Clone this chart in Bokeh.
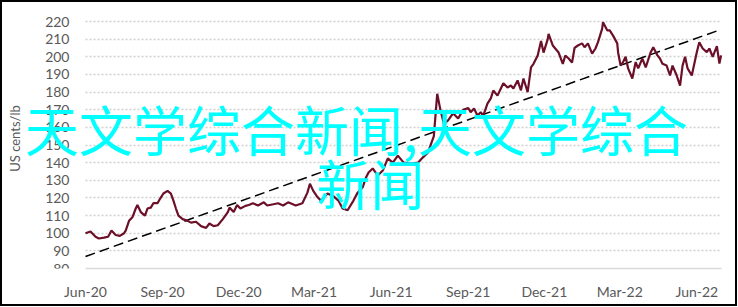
import pandas as pd
from bokeh.plotting import figure
from bokeh.models import Range1d, MonthsTicker, DatetimeTickFormatter, Label, FixedTicker
from bokeh.embed import file_html
from bokeh.resources import INLINE

# ---- data ----
dates = [
    "2020-06-01", "2020-06-07", "2020-06-13", "2020-06-17", "2020-06-23", "2020-06-28",
    "2020-07-02", "2020-07-07", "2020-07-12", "2020-07-17", "2020-07-19", "2020-07-23",
    "2020-07-27", "2020-07-31", "2020-08-02", "2020-08-06", "2020-08-11", "2020-08-14",
    "2020-08-18", "2020-08-21", "2020-08-26", "2020-08-29", "2020-09-02", "2020-09-07",
    "2020-09-11", "2020-09-14", "2020-09-17", "2020-09-20", "2020-09-25", "2020-10-01",
    "2020-10-05", "2020-10-11", "2020-10-17", "2020-10-23", "2020-10-27", "2020-11-01",
    "2020-11-06", "2020-11-12", "2020-11-18", "2020-11-20", "2020-11-25", "2020-11-29",
    "2020-12-03", "2020-12-09", "2020-12-13", "2020-12-18", "2020-12-24", "2020-12-31",
    "2021-01-04", "2021-01-10", "2021-01-17", "2021-01-23", "2021-01-29", "2021-02-07",
    "2021-02-15", "2021-02-21", "2021-02-24", "2021-02-28", "2021-03-05", "2021-03-09",
    "2021-03-17", "2021-03-24", "2021-03-30", "2021-04-04", "2021-04-10", "2021-04-17",
    "2021-04-22", "2021-04-28", "2021-05-02", "2021-05-05", "2021-05-10", "2021-05-16",
    "2021-05-22", "2021-05-28", "2021-06-03", "2021-06-09", "2021-06-16", "2021-06-25",
    "2021-07-03", "2021-07-09", "2021-07-15", "2021-07-22", "2021-07-26", "2021-07-30",
    "2021-08-03", "2021-08-08", "2021-08-14", "2021-08-20", "2021-08-26", "2021-09-01",
    "2021-09-04", "2021-09-08", "2021-09-12", "2021-09-16", "2021-09-19", "2021-09-24",
    "2021-09-28", "2021-10-01", "2021-10-06", "2021-10-10", "2021-10-13", "2021-10-18",
    "2021-10-22", "2021-10-25", "2021-10-30", "2021-11-03", "2021-11-06", "2021-11-11",
    "2021-11-15", "2021-11-18", "2021-11-23", "2021-11-27", "2021-11-30", "2021-12-05",
    "2021-12-06", "2021-12-11", "2021-12-14", "2021-12-18", "2021-12-23", "2021-12-26",
    "2021-12-30", "2022-01-03", "2022-01-06", "2022-01-10", "2022-01-15", "2022-01-18",
    "2022-01-22", "2022-01-27", "2022-01-31", "2022-02-03", "2022-02-08", "2022-02-09",
    "2022-02-14", "2022-02-17", "2022-02-21", "2022-02-26", "2022-02-27", "2022-03-02",
    "2022-03-05", "2022-03-08", "2022-03-11", "2022-03-16", "2022-03-20", "2022-03-23",
    "2022-03-28", "2022-04-01", "2022-04-07", "2022-04-10", "2022-04-15", "2022-04-18",
    "2022-04-21", "2022-04-26", "2022-04-30", "2022-05-03", "2022-05-08", "2022-05-12",
    "2022-05-15", "2022-05-18", "2022-05-21", "2022-05-26", "2022-06-01", "2022-06-04",
    "2022-06-08", "2022-06-13", "2022-06-16", "2022-06-20", "2022-06-25", "2022-06-28",
    "2022-06-30",
]
prices = [
    100, 101, 98, 97, 97.5, 98,
    101.5, 99, 98.5, 100, 101.5, 107,
    109, 114, 116, 112, 110, 114,
    114.5, 117, 117, 119.5, 122.5, 124,
    122.5, 118.5, 114, 110, 108, 107,
    106, 106.5, 104, 103, 105.5, 104,
    104.5, 108, 112, 114.5, 112, 116,
    114, 115.5, 116, 117, 115.7, 117.5,
    115.7, 116.3, 117, 115.7, 117.5, 115.7,
    117, 123, 128, 124, 120.5, 118.5,
    122.5, 121, 118.5, 114, 113, 118.5,
    123, 126, 131.6, 134.4, 136.7, 132.7,
    135.5, 142.4, 140, 144, 140, 139.5,
    140, 143, 145.8, 155, 179, 169.5,
    162, 164, 168, 165, 170, 171,
    168.6, 170.7, 166.7, 168.6, 166.7, 173.5,
    176.4, 180.9, 178, 182, 185, 182.6,
    183.7, 182, 186.6, 181, 187.7, 180,
    194, 196, 200.7, 209, 202.4, 210,
    213, 206.4, 204.7, 202.4, 196, 200.7,
    199, 196.7, 205, 206.4, 207.6, 205.4,
    207.6, 201.8, 204.7, 208.3, 216, 219.6,
    215, 215, 212, 207.6, 202.6, 195,
    197, 200, 193.4, 187.7, 197, 193.4,
    199, 194, 202.6, 205.4, 200.8, 199,
    196, 195, 189.4, 195, 189.4, 183.7,
    195, 200, 193.4, 189.4, 202.6, 208.3,
    204.7, 202.6, 204.7, 200, 206, 196.2,
    200.8,
]
trend_dates = ["2020-06-01", "2022-06-30"]
trend_values = [86.8, 215.5]
y_ticks = [80, 90, 100, 110, 120, 130, 140, 150, 160, 170, 180, 190, 200, 210, 220]
y_label = "US cents/lb"
overlay_lines = ["天文学综合新闻,天文学综合", "新闻"]

x = pd.to_datetime(dates)
tx = pd.to_datetime(trend_dates)

LABEL_FONT = "Lato"
LABEL_COLOR = "#595959"

# ---- layout: the frame spans the full canvas width so the overlay text is not clipped;
# the axes are pinned to the data area with fixed_location / bounds.
W, H = 737, 306            # css box incl. 2px border
FRAME_L, FRAME_R = 2, 739  # page pixels of the frame edges
FRAME_T = 8                # page pixel of the frame top
DATA_L, DATA_R = 85, 721   # page pixels of the data window
Y_TOP_PX, Y_BOT_PX = 21, 268  # page pixels of 220 and 80
ms = lambda d: pd.Timestamp(d).value / 1e6
d0, d1 = ms("2020-06-01"), ms("2022-06-30 12:00")
ppm = (DATA_R - DATA_L) / (d1 - d0)
x_start = d0 - (DATA_L - FRAME_L) / ppm
x_end = d1 + (FRAME_R - DATA_R) / ppm
ppv = (Y_BOT_PX - Y_TOP_PX) / (y_ticks[-1] - y_ticks[0])
y_end = y_ticks[-1] + (Y_TOP_PX - FRAME_T) / ppv

p = figure(
    width=W, height=H,
    x_axis_type="datetime",
    x_range=Range1d(x_start, x_end),
    y_range=Range1d(y_ticks[0], y_end),
    output_backend="svg", toolbar_location=None,
    min_border_left=0, min_border_right=0,
    min_border_top=FRAME_T - 2, min_border_bottom=H + 2 - Y_BOT_PX,
    background_fill_color="white", border_fill_color="white",
    outline_line_color=None,
)
p.styles = {"border": "2px solid black"}

# grid
p.xgrid.grid_line_color = None
p.ygrid.ticker = FixedTicker(ticks=y_ticks)
p.ygrid.grid_line_color = "#d0d0d0"
p.ygrid.grid_line_width = 1.5
p.ygrid.grid_line_dash = "2 2"
p.ygrid.cross_bounds = (d0, d1)

# y axis (pinned at the left edge of the data window)
p.yaxis.fixed_location = d0
p.yaxis.ticker = FixedTicker(ticks=y_ticks)
p.yaxis.axis_line_color = None
p.yaxis.major_tick_line_color = None
p.yaxis.minor_tick_line_color = None
p.yaxis.major_tick_in = 0
p.yaxis.major_tick_out = 0
p.yaxis.major_label_standoff = 16
p.yaxis.major_label_text_font = LABEL_FONT
p.yaxis.major_label_text_font_size = "14px"
p.yaxis.major_label_text_color = LABEL_COLOR
p.yaxis.axis_label = y_label
p.yaxis.axis_label_text_font = LABEL_FONT
p.yaxis.axis_label_text_font_size = "13px"
p.yaxis.axis_label_text_font_style = "normal"
p.yaxis.axis_label_text_color = LABEL_COLOR
p.yaxis.axis_label_standoff = 19

# x axis (BokehJS months are 0-based: 2=Mar, 5=Jun, 8=Sep, 11=Dec)
p.xaxis.bounds = (d0, d1)
p.xaxis.ticker = MonthsTicker(months=[2, 5, 8, 11])
p.xaxis.formatter = DatetimeTickFormatter(months="%b-%y", days="%b-%y")
p.xaxis.axis_line_color = "#d9d9d9"
p.xaxis.axis_line_width = 1.5
p.xaxis.major_tick_line_color = None
p.xaxis.minor_tick_line_color = None
p.xaxis.major_tick_in = 0
p.xaxis.major_tick_out = 0
p.xaxis.major_label_standoff = 14
p.xaxis.major_label_text_font = LABEL_FONT
p.xaxis.major_label_text_font_size = "14px"
p.xaxis.major_label_text_color = LABEL_COLOR

# series
p.line(tx, trend_values, line_color="black", line_width=1.5, line_dash="10 5")
p.line(x, prices, line_color="#6b1028", line_width=2.2)

# overlay text (screen units are measured from the frame's bottom-left corner)
p.add_layout(Label(x=22.5, y=140, x_units="screen", y_units="screen", text=overlay_lines[0],
                   text_font="Noto Sans CJK SC", text_font_size="54px",
                   text_color="#00ffff", text_baseline="middle", text_align="left"))
p.add_layout(Label(x=368, y=86, x_units="screen", y_units="screen", text=overlay_lines[1],
                   text_font="Noto Sans CJK SC", text_font_size="54px",
                   text_color="#00ffff", text_baseline="middle", text_align="center"))

open("out.html", "w").write(file_html(p, INLINE))
